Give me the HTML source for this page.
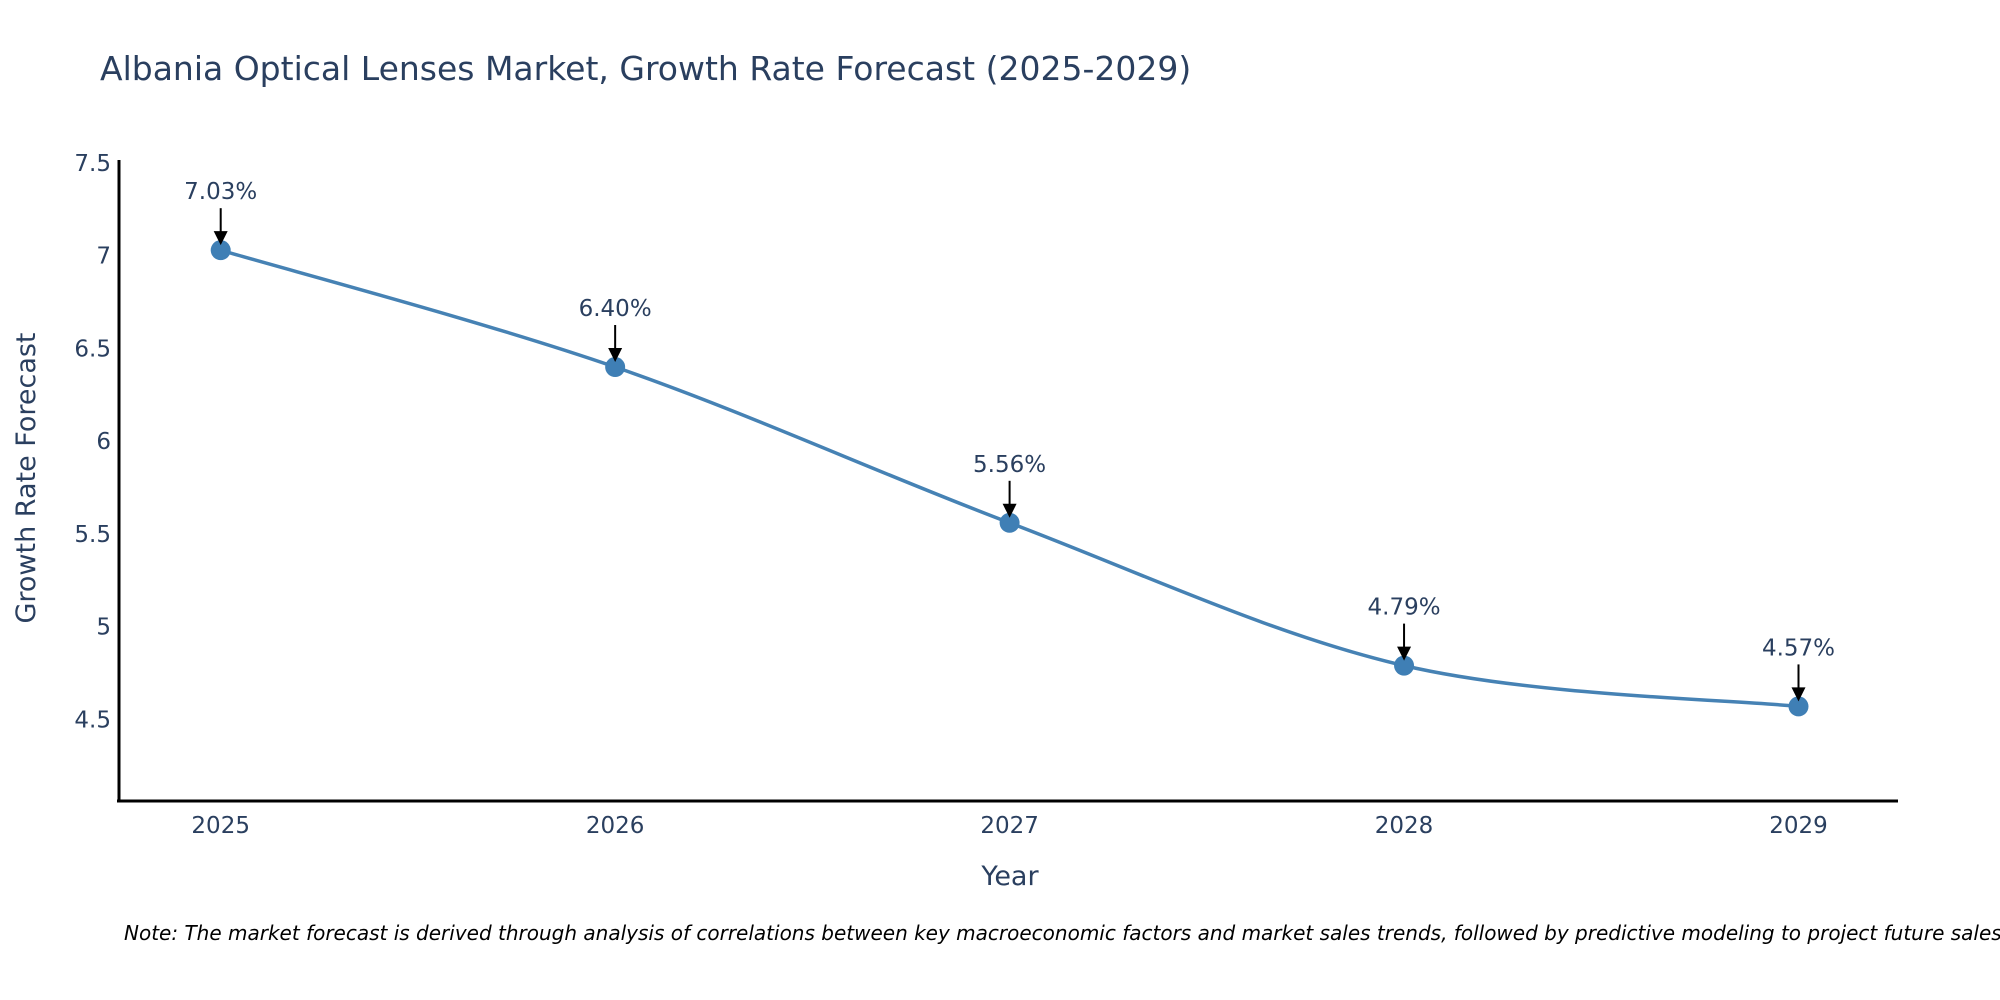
<!DOCTYPE html>
<html><head><meta charset="utf-8"><style>
body{margin:0;background:#fff;}
svg{display:block;font-family:"DejaVu Sans","Liberation Sans",sans-serif;}
</style></head><body>
<svg id="chart" width="2000" height="1000">
<text x="100" y="80" font-size="33" fill="#2a3f5f">Albania Optical Lenses Market, Growth Rate Forecast (2025-2029)</text>
<g id="yticks"></g>
<g id="xticks"></g>
<line x1="119" y1="160" x2="119" y2="802" stroke="#000" stroke-width="3"/>
<line x1="117" y1="801" x2="1898" y2="801" stroke="#000" stroke-width="3"/>
<text x="1010" y="885" font-size="27" fill="#2a3f5f" text-anchor="middle">Year</text>
<text transform="translate(35,478) rotate(-90)" font-size="27" fill="#2a3f5f" text-anchor="middle">Growth Rate Forecast</text>
<g id="series"></g>
<g id="ann"></g>
<text x="124" y="940" font-size="20" font-style="italic" fill="#000">Note: The market forecast is derived through analysis of correlations between key macroeconomic factors and market sales trends, followed by predictive modeling to project future sales.</text>
</svg>
<script>
const years = [2025, 2026, 2027, 2028, 2029];
const values = [7.03, 6.40, 5.56, 4.79, 4.57];
const labels = ["7.03%", "6.40%", "5.56%", "4.79%", "4.57%"];
const yTicks = [4.5, 5, 5.5, 6, 6.5, 7, 7.5];
const yTickLabels = ["4.5", "5", "5.5", "6", "6.5", "7", "7.5"];

const NS = "http://www.w3.org/2000/svg";
const yMin = 4.06, yMax = 7.5, pxTop = 163, pxBot = 801;
function yScale(v){ return pxBot - (v - yMin) / (yMax - yMin) * (pxBot - pxTop); }
function xScale(i){ return 220.7 + i * (1798.5 - 220.7) / (years.length - 1); }
function mk(tag, attrs, parent){ const e = document.createElementNS(NS, tag); for (const k in attrs) e.setAttribute(k, attrs[k]); parent.appendChild(e); return e; }

const yt = document.getElementById('yticks');
yTicks.forEach((v, i) => {
  const t = mk('text', {x: 111, y: yScale(v) + 8, 'font-size': 23, fill: '#2a3f5f', 'text-anchor': 'end'}, yt);
  
  
  t.textContent = yTickLabels[i];
});
const xt = document.getElementById('xticks');
years.forEach((y, i) => {
  const t = mk('text', {x: xScale(i), y: 833, 'font-size': 23, fill: '#2a3f5f', 'text-anchor': 'middle'}, xt);
  
  
  t.textContent = String(y);
});

const pts = values.map((v, i) => [xScale(i), yScale(v)]);
let d = `M${pts[0][0]},${pts[0][1]}`;
const k = 0.5 / 3 * 2;
for (let i = 0; i < pts.length - 1; i++) {
  const p0 = pts[Math.max(0, i - 1)], p1 = pts[i], p2 = pts[i + 1], p3 = pts[Math.min(pts.length - 1, i + 2)];
  const c1 = [p1[0] + (p2[0] - p0[0]) * k / 2, p1[1] + (p2[1] - p0[1]) * k / 2];
  const c2 = [p2[0] - (p3[0] - p1[0]) * k / 2, p2[1] - (p3[1] - p1[1]) * k / 2];
  d += ` C${c1[0]},${c1[1]} ${c2[0]},${c2[1]} ${p2[0]},${p2[1]}`;
}
const sg = document.getElementById('series');
const line = mk('path', {d: d, fill: 'none', stroke: '#4682b4', 'stroke-width': 3.5}, sg);


pts.forEach((p) => {
  const c = mk('circle', {cx: p[0], cy: p[1], r: 10, fill: '#3f7fb5'}, sg);
  
  
});

const ag = document.getElementById('ann');
pts.forEach((p, i) => {
  const l = mk('line', {x1: p[0], y1: p[1] - 42, x2: p[0], y2: p[1] - 18, stroke: '#000', 'stroke-width': 2}, ag);
  
  
  const h = mk('polygon', {points: `${p[0]-7},${p[1]-19} ${p[0]+7},${p[1]-19} ${p[0]},${p[1]-5}`, fill: '#000'}, ag);
  
  
  const t = mk('text', {x: p[0], y: p[1] - 51, 'font-size': 23, fill: '#2a3f5f', 'text-anchor': 'middle'}, ag);
  
  
  t.textContent = labels[i];
});
</script>
</body></html>
